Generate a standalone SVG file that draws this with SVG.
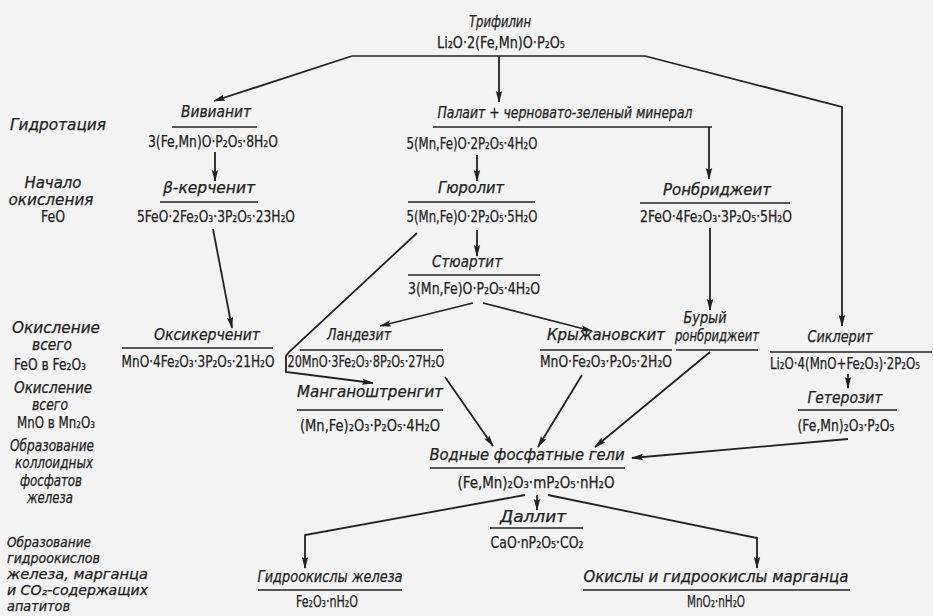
<svg xmlns="http://www.w3.org/2000/svg" width="933" height="616" viewBox="0 0 933 616">
<style>
text{font-family:"DejaVu Sans Condensed","DejaVu Sans",sans-serif;fill:#222;stroke:#222;stroke-width:0.25}
.n{font-style:italic;font-size:15px;text-anchor:middle}
.f{font-size:15px;text-anchor:middle}
.l{font-style:italic;font-size:15px;text-anchor:middle}
.la{font-style:italic;font-size:13.5px}
.up{font-style:normal}
.u{stroke:#222;stroke-width:1.6}
.c{stroke:#222;stroke-width:1.8;fill:none}
.a{marker-end:url(#ah)}
</style>
<defs>
<marker id="ah" markerUnits="userSpaceOnUse" markerWidth="12" markerHeight="8" refX="11" refY="4" orient="auto"><path d="M0,0.8 L12,4 L0,7.2 L2,4 z" fill="#222"/></marker>
</defs>
<rect width="933" height="616" fill="#f3f3f3"/>

<g id="labels">
<text class="l" x="58" y="130" textLength="96" lengthAdjust="spacingAndGlyphs">Гидротация</text>
<text class="l" x="53" y="188" textLength="57" lengthAdjust="spacingAndGlyphs">Начало</text>
<text class="l" x="51" y="205" textLength="85" lengthAdjust="spacingAndGlyphs">окисления</text>
<text class="l up" x="53" y="222" textLength="24" lengthAdjust="spacingAndGlyphs">FeO</text>
<text class="l" x="56" y="333" textLength="88" lengthAdjust="spacingAndGlyphs">Окисление</text>
<text class="l" x="52" y="350" textLength="40" lengthAdjust="spacingAndGlyphs">всего</text>
<text class="l up" x="50" y="370" textLength="72" lengthAdjust="spacingAndGlyphs">FeO в Fe₂O₃</text>
<text class="l" x="53" y="393" textLength="78" lengthAdjust="spacingAndGlyphs">Окисление</text>
<text class="l" x="50" y="410" textLength="36" lengthAdjust="spacingAndGlyphs">всего</text>
<text class="l up" x="56" y="428" textLength="78" lengthAdjust="spacingAndGlyphs">MnO в Mn₂O₃</text>
<text class="l" x="52" y="451" textLength="84" lengthAdjust="spacingAndGlyphs">Образование</text>
<text class="l" x="54" y="468" textLength="78" lengthAdjust="spacingAndGlyphs">коллоидных</text>
<text class="l" x="51" y="486" textLength="62" lengthAdjust="spacingAndGlyphs">фосфатов</text>
<text class="l" x="50" y="503" textLength="46" lengthAdjust="spacingAndGlyphs">железа</text>
<text class="la" x="7" y="547" textLength="84" lengthAdjust="spacingAndGlyphs">Образование</text>
<text class="la" x="7" y="563" textLength="93" lengthAdjust="spacingAndGlyphs">гидроокислов</text>
<text class="la" x="7" y="579" textLength="141" lengthAdjust="spacingAndGlyphs">железа, марганца</text>
<text class="la" x="7" y="595" textLength="141" lengthAdjust="spacingAndGlyphs">и CO₂-содержащих</text>
<text class="la" x="7" y="611" textLength="63" lengthAdjust="spacingAndGlyphs">апатитов</text>
</g>

<g id="trifilin">
<text class="n" x="500" y="27" textLength="62" lengthAdjust="spacingAndGlyphs">Трифилин</text>
<text class="f" x="501" y="48" textLength="128" lengthAdjust="spacingAndGlyphs">Li₂O·2(Fe,Mn)O·P₂O₅</text>
<line class="u" x1="352" y1="56" x2="645" y2="56"/>
</g>

<g id="vivianit">
<text class="n" x="216" y="117" textLength="70" lengthAdjust="spacingAndGlyphs">Вивианит</text>
<line class="u" x1="172" y1="127" x2="257" y2="127"/>
<text class="f" x="213" y="147" textLength="130" lengthAdjust="spacingAndGlyphs">3(Fe,Mn)O·P₂O₅·8H₂O</text>
</g>

<g id="beta-kerchenit">
<text class="n" x="209" y="193" textLength="92" lengthAdjust="spacingAndGlyphs">β-керченит</text>
<line class="u" x1="160" y1="202" x2="258" y2="202"/>
<text class="f" x="216" y="222" textLength="158" lengthAdjust="spacingAndGlyphs">5FeO·2Fe₂O₃·3P₂O₅·23H₂O</text>
</g>

<g id="oksikerchenit">
<text class="n" x="207" y="340" textLength="106" lengthAdjust="spacingAndGlyphs">Оксикерченит</text>
<line class="u" x1="122" y1="348" x2="273" y2="348"/>
<text class="f" x="198" y="367" textLength="153" lengthAdjust="spacingAndGlyphs">MnO·4Fe₂O₃·3P₂O₅·21H₂O</text>
</g>

<g id="palait">
<text class="n" x="565" y="118" textLength="255" lengthAdjust="spacingAndGlyphs">Палаит + черновато-зеленый минерал</text>
<line class="u" x1="433" y1="127" x2="712" y2="127"/>
<text class="f" x="472" y="149" textLength="131" lengthAdjust="spacingAndGlyphs">5(Mn,Fe)O·2P₂O₅·4H₂O</text>
</g>

<g id="gyurolit">
<text class="n" x="471" y="193" textLength="66" lengthAdjust="spacingAndGlyphs">Гюролит</text>
<line class="u" x1="408" y1="202" x2="535" y2="202"/>
<text class="f" x="472" y="222" textLength="131" lengthAdjust="spacingAndGlyphs">5(Mn,Fe)O·2P₂O₅·5H₂O</text>
</g>

<g id="styuartit">
<text class="n" x="467" y="267" textLength="70" lengthAdjust="spacingAndGlyphs">Стюартит</text>
<line class="u" x1="408" y1="275" x2="540" y2="275"/>
<text class="f" x="474" y="294" textLength="132" lengthAdjust="spacingAndGlyphs">3(Mn,Fe)O·P₂O₅·4H₂O</text>
</g>

<g id="ronbridzheit">
<text class="n" x="717" y="195" textLength="108" lengthAdjust="spacingAndGlyphs">Ронбриджеит</text>
<line class="u" x1="640" y1="203" x2="790" y2="203"/>
<text class="f" x="716" y="222" textLength="152" lengthAdjust="spacingAndGlyphs">2FeO·4Fe₂O₃·3P₂O₅·5H₂O</text>
</g>

<g id="landezit">
<text class="n" x="359" y="340" textLength="64" lengthAdjust="spacingAndGlyphs">Ландезит</text>
<line class="u" x1="300" y1="350" x2="443" y2="350"/>
<text class="f" x="366" y="367" textLength="157" lengthAdjust="spacingAndGlyphs">20MnO·3Fe₂O₃·8P₂O₅·27H₂O</text>
</g>

<g id="manganoshtrengit">
<text class="n" x="370" y="397" textLength="146" lengthAdjust="spacingAndGlyphs">Манганоштренгит</text>
<line class="u" x1="297" y1="410" x2="443" y2="410"/>
<text class="f" x="370" y="431" textLength="140" lengthAdjust="spacingAndGlyphs">(Mn,Fe)₂O₃·P₂O₅·4H₂O</text>
</g>

<g id="kryzhanovskit">
<text class="n" x="606" y="340" textLength="118" lengthAdjust="spacingAndGlyphs">Крыжановскит</text>
<line class="u" x1="540" y1="350" x2="672" y2="350"/>
<text class="f" x="606" y="367" textLength="132" lengthAdjust="spacingAndGlyphs">MnO·Fe₂O₃·P₂O₅·2H₂O</text>
</g>

<g id="buryi-ronbridzheit">
<text class="n" x="705" y="323" font-size="14" textLength="43" lengthAdjust="spacingAndGlyphs">Бурый</text>
<text class="n" x="717" y="341" font-size="14" textLength="84" lengthAdjust="spacingAndGlyphs">ронбриджеит</text>
<line class="u" x1="676" y1="350" x2="758" y2="350"/>
</g>

<g id="siklerit">
<text class="n" x="840" y="342" textLength="65" lengthAdjust="spacingAndGlyphs">Сиклерит</text>
<line class="u" x1="770" y1="352" x2="932" y2="352"/>
<text class="f" x="845" y="369" font-size="12.5" textLength="150" lengthAdjust="spacingAndGlyphs">Li₂O·4(MnO+Fe₂O₃)·2P₂O₅</text>
</g>

<g id="geterozit">
<text class="n" x="845" y="403" textLength="75" lengthAdjust="spacingAndGlyphs">Гетерозит</text>
<line class="u" x1="798" y1="410" x2="897" y2="410"/>
<text class="f" x="846" y="431" textLength="97" lengthAdjust="spacingAndGlyphs">(Fe,Mn)₂O₃·P₂O₅</text>
</g>

<g id="vodnye-geli">
<text class="n" x="527" y="460" textLength="195" lengthAdjust="spacingAndGlyphs">Водные фосфатные гели</text>
<line class="u" x1="430" y1="468" x2="625" y2="468"/>
<text class="f" x="536" y="488" textLength="157" lengthAdjust="spacingAndGlyphs">(Fe,Mn)₂O₃·mP₂O₅·nH₂O</text>
</g>

<g id="dallit">
<text class="n" x="533" y="522" textLength="66" lengthAdjust="spacingAndGlyphs">Даллит</text>
<line class="u" x1="490" y1="528" x2="583" y2="528"/>
<text class="f" x="537" y="548" textLength="93" lengthAdjust="spacingAndGlyphs">CaO·nP₂O₅·CO₂</text>
</g>

<g id="gidrookisly-zheleza">
<text class="n" x="330" y="582" textLength="145" lengthAdjust="spacingAndGlyphs">Гидроокислы железа</text>
<line class="u" x1="258" y1="590" x2="402" y2="590"/>
<text class="f" x="327" y="607" textLength="62" lengthAdjust="spacingAndGlyphs">Fe₂O₃·nH₂O</text>
</g>

<g id="okisly-margantsa">
<text class="n" x="716" y="582" textLength="265" lengthAdjust="spacingAndGlyphs">Окислы и гидроокислы марганца</text>
<line class="u" x1="583" y1="590" x2="850" y2="590"/>
<text class="f" x="716" y="607" textLength="58" lengthAdjust="spacingAndGlyphs">MnO₂·nH₂O</text>
</g>

<g id="connectors">
<polyline class="c a" points="352,56 214,101"/>
<line class="c a" x1="499" y1="56" x2="499" y2="102"/>
<polyline class="c a" points="645,56 842,107 842,326"/>
<line class="c a" x1="215" y1="152" x2="215" y2="181"/>
<line class="c a" x1="213" y1="229" x2="232" y2="328"/>
<line class="c a" x1="709" y1="127" x2="709" y2="179"/>
<line class="c a" x1="477" y1="155" x2="477" y2="181"/>
<line class="c a" x1="477" y1="230" x2="477" y2="256"/>
<line class="c a" x1="710" y1="228" x2="710" y2="310"/>
<polyline class="c a" points="417,233 289,352 286,356 286,372 373,383"/>
<line class="c a" x1="473" y1="303" x2="380" y2="326"/>
<line class="c a" x1="483" y1="303" x2="592" y2="331"/>
<line class="c a" x1="848" y1="374" x2="848" y2="388"/>
<line class="c a" x1="445" y1="377" x2="493" y2="446"/>
<line class="c a" x1="582" y1="375" x2="538" y2="447"/>
<line class="c a" x1="710" y1="352" x2="595" y2="447"/>
<line class="c a" x1="848" y1="439" x2="632" y2="458"/>
<line class="c a" x1="537" y1="495" x2="537" y2="510"/>
<polyline class="c a" points="525,495 305,535 305,568"/>
<polyline class="c a" points="548,495 757,538 757,568"/>
</g>
</svg>
